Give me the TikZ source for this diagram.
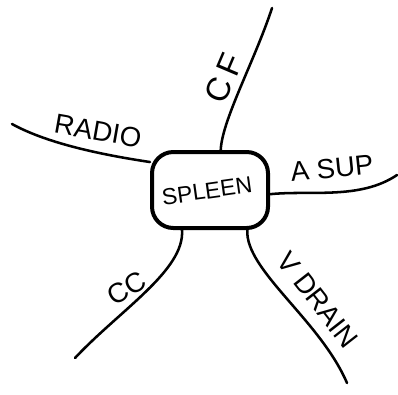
\documentclass[tikz,border=0pt]{standalone}
\usepackage{fontspec}
\setmainfont{Liberation Sans}

\tikzset{every picture/.style={line width=0.75pt}}
\tikzset{
  branch/.style={line width=1.9pt, line cap=round},
  hub/.style={draw, line width=3pt, rounded corners=16pt, minimum width=87pt, minimum height=57pt, inner sep=0.75pt},
  tag/.style={inner sep=0.75pt, font=\huge}
}

\begin{document}
\begin{tikzpicture}[x=0.75pt,y=0.75pt,yscale=-1,xscale=1]
\useasboundingbox (0,0) rectangle (398,394);

%Rounded Rect
\node [hub] (spleen) at (210,190) {};
% Text Node
\node [inner sep=0.75pt, font=\LARGE, rotate=8] (spleentxt) at (207,191) {SPLEEN};

%Free ends
\coordinate (radioend) at (12,124);
\coordinate (cfend) at (272,8);
\coordinate (asupend) at (397,175);
\coordinate (vdrainend) at (347,383);
\coordinate (ccend) at (75,358);

%Curve Lines
\draw [branch] (spleen.155) .. controls (110,156) and (50,145) .. (radioend) ;
\draw [branch] (spleen.75) .. controls (222,120) and (255,60) .. (cfend) ;
\draw [branch] (spleen.-4) .. controls (310,190) and (360,200) .. (asupend) ;
\draw [branch] (spleen.-47) .. controls (245,270) and (320,320) .. (vdrainend) ;
\draw [branch] (spleen.-125) .. controls (185,270) and (120,310) .. (ccend) ;

% Text Node
\node [tag, rotate=-10] (radio) at (98,131) {RADIO};
% Text Node
\node [tag, font=\Huge, rotate=67] (cf) at (224,78) {C\,F};
% Text Node
\node [tag, rotate=6] (asup) at (332,168) {A SUP};
% Text Node
\node [tag, rotate=-52] (vdrain) at (318,300) {V DRAIN};
% Text Node
\node [tag, rotate=31] (cc) at (127,288) {CC};

\end{tikzpicture}
\end{document}
